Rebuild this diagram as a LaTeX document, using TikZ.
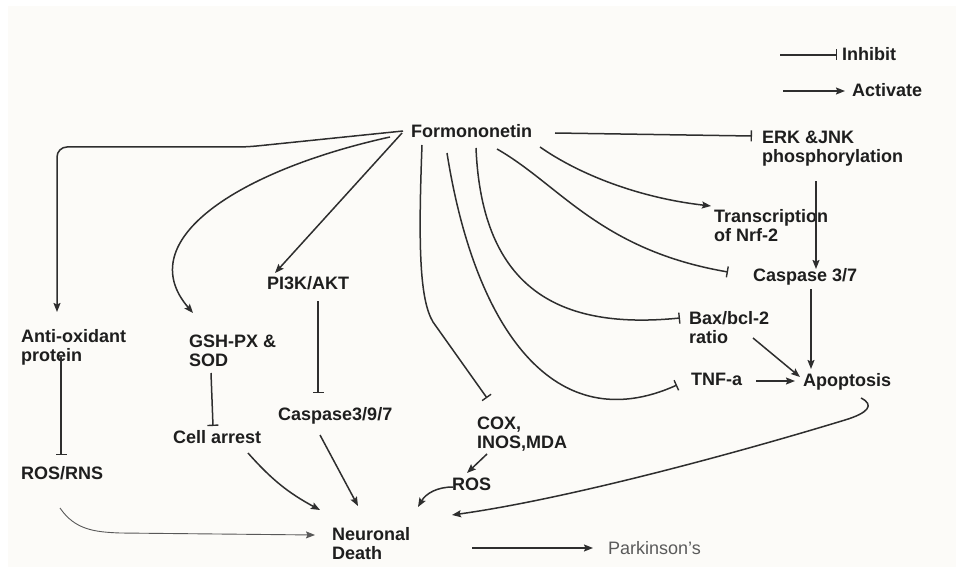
\documentclass[tikz,border=0pt]{standalone}
\usepackage{fontspec}
\setmainfont{Liberation Sans}
\usetikzlibrary{arrows.meta,calc}
\definecolor{linec}{HTML}{2E2E2E}
\definecolor{textc}{HTML}{1E1E1E}
\definecolor{parkc}{HTML}{5A5A5A}
\definecolor{panelc}{HTML}{FCFBF8}
\newcommand{\twol}[2]{\begin{tabular}[t]{@{}l@{}}#1\\#2\end{tabular}}
\tikzset{
  lbl/.style={anchor=base west, inner sep=0pt, text=textc,
    font=\fontsize{18}{19.5}\selectfont\bfseries},
  lblthin/.style={anchor=base west, inner sep=0pt, text=parkc,
    font=\fontsize{18}{19.5}\selectfont},
  conn/.style={draw=linec, line width=1.5pt},
  act/.style={conn, -{Stealth[length=9pt,width=7pt,inset=1.5pt]}},
  inh/.style={conn, -{Bar[width=11pt,line width=1.4pt]}},
}
\begin{document}
\begin{tikzpicture}[x=1pt,y=-1pt]
\useasboundingbox (0,0) rectangle (956,567);
\fill[white] (0,0) rectangle (956,567);
\fill[panelc] (8,6) rectangle (956,567);

% nodes
\node[lbl] (form) at (411,138) {Formononetin};
\node[lbl] (erk) at (762,143) {\twol{ERK \&JNK}{phosphorylation}};
\node[lbl] (nrf) at (714,222) {\twol{Transcription}{of Nrf-2}};
\node[lbl] (casp37) at (753,281) {Caspase 3/7};
\node[lbl] (bax) at (689,324) {\twol{Bax/bcl-2}{ratio}};
\node[lbl] (tnf) at (691,385) {TNF-a};
\node[lbl] (apop) at (803,386) {Apoptosis};
\node[lbl] (anti) at (21,342) {\twol{Anti-oxidant}{protein}};
\node[lbl] (rosrns) at (21,479) {ROS/RNS};
\node[lbl] (gsh) at (189,347) {\twol{GSH-PX \&}{SOD}};
\node[lbl] (cell) at (173,443) {Cell arrest};
\node[lbl] (pi3k) at (267,289) {PI3K/AKT};
\node[lbl] (c397) at (278,420) {Caspase3/9/7};
\node[lbl] (cox) at (477,429) {\twol{COX,}{INOS,MDA}};
\node[lbl] (ros) at (452,490) {ROS};
\node[lbl] (neur) at (332,540) {\twol{Neuronal}{Death}};
\node[lblthin] (park) at (608,554) {Parkinson's};
\node[lbl] (inhl) at (842,61) {Inhibit};
\node[lbl] (actl) at (852,97) {Activate};

% legend
\draw[inh] ($(inhl.base west)+(-62,-6)$) -- ($(inhl.base west)+(-5,-6)$);
\draw[act] ($(actl.base west)+(-69,-6)$) -- ($(actl.base west)+(-7,-6)$);

% from Formononetin
\draw[inh] ($(form.base west)+(144,-5)$) -- ($(erk.base west)+(-10,-7)$);
\draw[act] ($(form.base west)+(129,9)$) .. controls +(40,28) and +(-71,-8) .. ($(nrf.base west)+(-3,-16)$);
\draw[inh] ($(form.base west)+(86,11)$) .. controls +(63,36) and +(-128,-22) .. ($(casp37.base west)+(-25,-9)$);
\draw[inh] ($(form.base west)+(65,10)$) .. controls +(6,142) and +(-120,12) .. ($(bax.base west)+(-9,-6)$);
\draw[inh] ($(form.base west)+(36,15)$) .. controls +(28,177) and +(-122,55) .. ($(tnf.base west)+(-14,0)$);
\draw[inh] ($(form.base west)+(11,7)$) .. controls +(-4,105) and +(-13,-22) .. ++(11,177) -- ($(cox.base west)+(10,-31)$);
\draw[act] ($(form.base west)+(-9,-5)$) -- ($(pi3k.base west)+(8,-16)$);
\draw[act] ($(form.base west)+(-21,-1)$) .. controls +(-150,33) and +(-63,-73) .. ($(gsh.base west)+(4,-34)$);
\draw[act, rounded corners=10pt] ($(form.base west)+(-8,-7)$) -- ++(-156,16) -- ++(-190,0) -- ($(anti.base west)+(36,-30)$);

% left column
\draw[inh] ($(anti.base west)+(40,15)$) -- ($(rosrns.base west)+(40,-24)$);
\draw[inh] ($(gsh.base west)+(22,26)$) -- ($(cell.base west)+(40,-17)$);
\draw[inh] ($(pi3k.base west)+(51,12)$) -- ($(c397.base west)+(40,-27)$);

% to Neuronal Death
\draw[act] ($(cell.base west)+(75,10)$) to[bend right=10] ($(neur.base west)+(-12,-30)$);
\draw[act] ($(c397.base west)+(42,15)$) -- ($(neur.base west)+(26,-34)$);
\draw[act, line width=0.9pt, draw=linec!80] ($(rosrns.base west)+(39,29)$) .. controls +(15,22) and +(-25,-1) .. ++(60,25) -- ($(neur.base west)+(-17,-5)$);
\draw[act] ($(cox.base west)+(10,25)$) -- ($(ros.base west)+(15,-17)$);
\draw[act] ($(ros.base west)+(1,-3)$) to[bend right=30] ($(neur.base west)+(86,-33)$);
\draw[act] ($(apop.base west)+(58,12)$) .. controls +(14,7) and +(23,-7) .. ++(-16,22) .. controls +(-125,38) and +(108,-15) .. ($(neur.base west)+(120,-25)$);
\draw[act] ($(neur.base west)+(140,8)$) -- ($(park.base west)+(-15,-6)$);

% right side
\draw[act] ($(erk.base west)+(54,38)$) -- ($(casp37.base west)+(63,-12)$);
\draw[act] ($(casp37.base west)+(58,8)$) -- ($(apop.base west)+(8,-17)$);
\draw[act] ($(bax.base west)+(64,14)$) -- ($(apop.base west)+(-3,-9)$);
\draw[act] ($(tnf.base west)+(65,-4)$) -- ($(apop.base west)+(-8,-5)$);
\end{tikzpicture}
\end{document}
